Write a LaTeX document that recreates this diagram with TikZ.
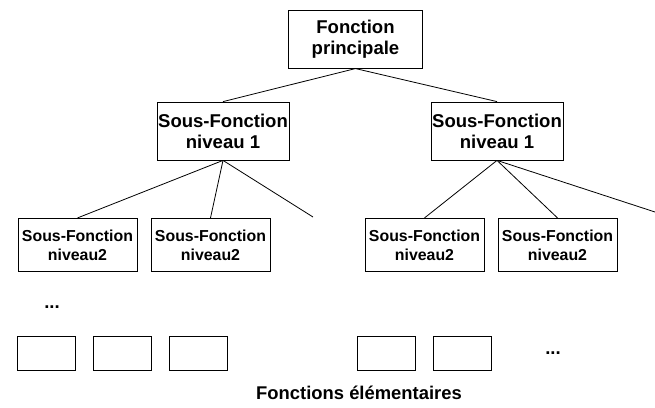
\documentclass[tikz,border=0pt]{standalone}
\usepackage{fontspec}
\setmainfont{Liberation Sans}
\usepackage{tikz}

\tikzset{
  fbox/.style={draw, line width=0.6pt, align=center, inner sep=0pt, font=\bfseries\fontsize{13.9}{15.75}\selectfont},
  sfbox/.style={draw, line width=0.6pt, align=center, inner sep=0pt, minimum width=89.25pt, minimum height=40pt, font=\bfseries\fontsize{11.9}{14.25}\selectfont},
  elbox/.style={draw, line width=0.6pt, inner sep=0pt, minimum width=43.5pt, minimum height=25.5pt},
  link/.style={line width=0.6pt},
}

\begin{document}
\begin{tikzpicture}[x=0.75pt,y=0.75pt,yscale=-1,xscale=1]
    \useasboundingbox (0,0) rectangle (655,407);

    %Shape: Rectangle [id:main]
    \node (fp) [fbox, minimum width=100pt, minimum height=43pt] at (355.5,39.5) {Fonction\\principale};
    %Shape: Rectangle [id:level1]
    \node (sfa) [fbox, minimum width=99pt, minimum height=43.5pt] at (223,131) {Sous-Fonction\\niveau 1};
    \node (sfb) [fbox, minimum width=99pt, minimum height=43.5pt] at (497,131) {Sous-Fonction\\niveau 1};
    %Shape: Rectangle [id:level2]
    \node (sa1) [sfbox] at (77.5,245) {Sous-Fonction\\niveau2};
    \node (sa2) [sfbox] at (210.5,245) {Sous-Fonction\\niveau2};
    \node (sb1) [sfbox] at (424.5,245) {Sous-Fonction\\niveau2};
    \node (sb2) [sfbox] at (557.5,245) {Sous-Fonction\\niveau2};
    %Shape: Rectangle [id:elementary]
    \node (e1) [elbox] at (46,353) {};
    \node (e2) [elbox] at (122.5,353) {};
    \node (e3) [elbox] at (198.5,353) {};
    \node (e4) [elbox] at (386.5,353) {};
    \node (e5) [elbox] at (462.5,353) {};

    % free ends
    \coordinate (fa) at (313,217);
    \coordinate (fb) at (655,212);

    %Straight Lines
    \draw [link] (fp.south) -- (sfa.north);
    \draw [link] (fp.south) -- (sfb.north);
    \draw [link] (sfa.south) -- (sa1.north);
    \draw [link] (sfa.south) -- (sa2.north);
    \draw [link] (sfa.south) -- (fa);
    \draw [link] (sfb.south) -- (sb1.north);
    \draw [link] (sfb.south) -- (sb2.north);
    \draw [link] (sfb.south) -- (fb);

    % Text Node
    \node (dotsa) [inner sep=0pt, font=\bfseries\fontsize{13.9}{15}\selectfont] at (52,307) {...};
    % Text Node
    \node (dotsb) [inner sep=0pt, font=\bfseries\fontsize{13.9}{15}\selectfont] at (553,353) {...};
    % Text Node
    \node (elem) [inner sep=0pt, font=\bfseries\fontsize{13.8}{15}\selectfont] at (359,393) {Fonctions élémentaires};

\end{tikzpicture}
\end{document}
